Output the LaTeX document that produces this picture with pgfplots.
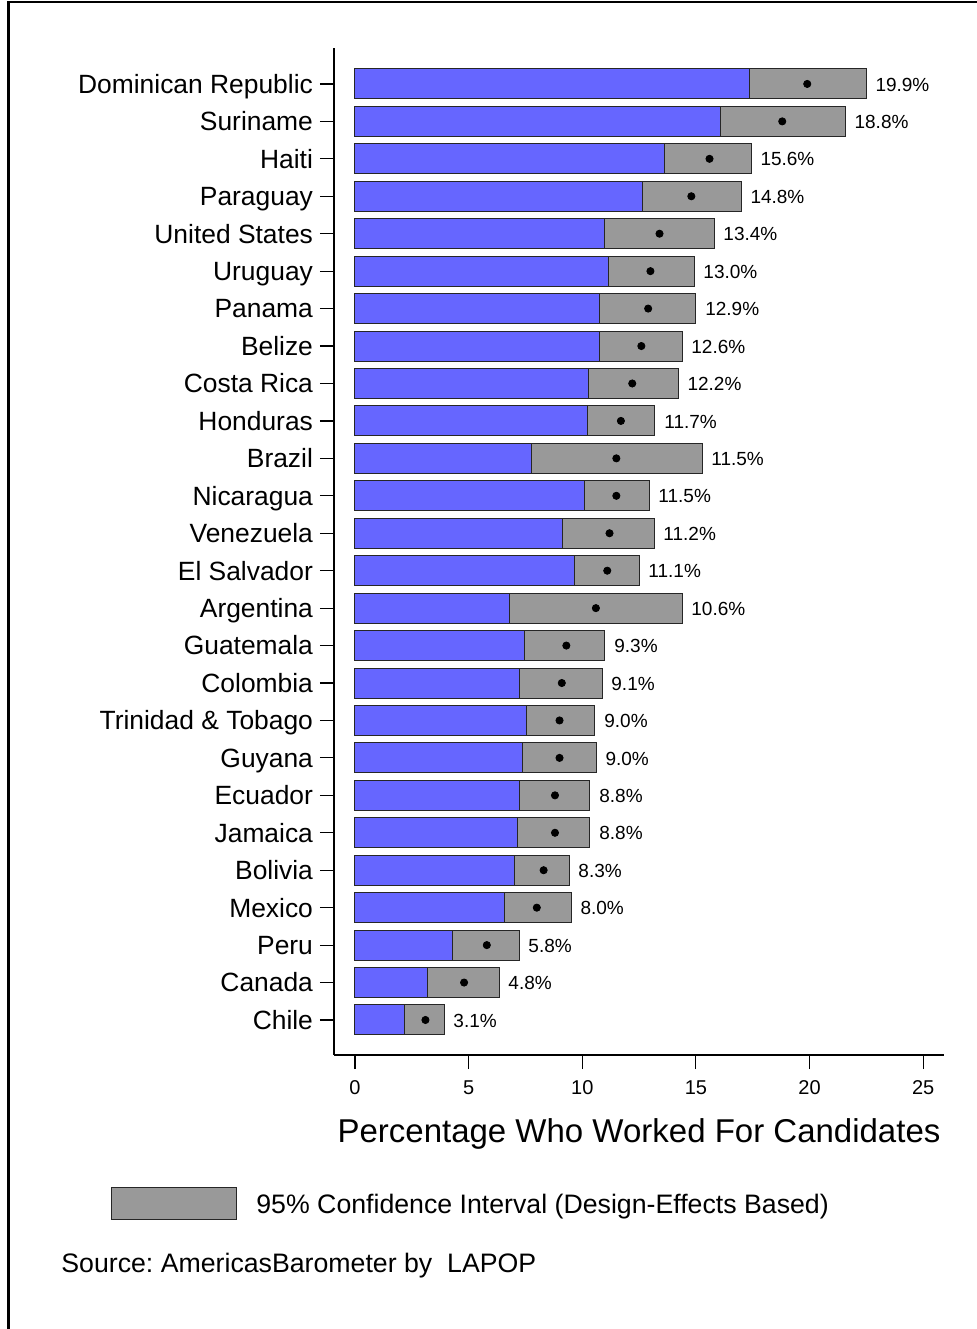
\documentclass[border=0pt]{standalone}
\usepackage{pgfplots}
\pgfplotsset{compat=1.18}
\usepackage{pgfplotstable}
\usepackage{fontspec}
\setmainfont{Liberation Sans}
\frenchspacing
\definecolor{barblue}{RGB}{102,102,255}
\definecolor{cigray}{RGB}{153,153,153}

\pgfplotstableread{
idx lo hi mean
26 17.34 22.49 19.9
25 16.07 21.57 18.8
24 13.60 17.43 15.6
23 12.63 16.99 14.8
22 10.96 15.80 13.4
21 11.14 14.92 13.0
20 10.78 15.00 12.9
19 10.74 14.39 12.6
18 10.26 14.22 12.2
17 10.21 13.20 11.7
16 7.75 15.27 11.5
15 10.12 12.94 11.5
14 9.15 13.16 11.2
13 9.68 12.50 11.1
12 6.78 14.39 10.6
11 7.48 11.00 9.3
10 7.22 10.87 9.1
9 7.53 10.56 9.0
8 7.35 10.61 9.0
7 7.26 10.34 8.8
6 7.13 10.34 8.8
5 7.04 9.42 8.3
4 6.56 9.51 8.0
3 4.27 7.22 5.8
2 3.21 6.34 4.8
1 2.16 3.92 3.1
}\data

\begin{document}
\begin{tikzpicture}
\path[use as bounding box] (0,0) rectangle (488.5pt,664.5pt);
\draw[line width=1.25pt] (4.25pt,0) -- (4.25pt,663.5pt) -- (488.5pt,663.5pt);
\begin{axis}[at={(167pt,137pt)}, anchor=south west, scale only axis,
  width=304.8pt, height=503.5pt,
  xmin=-0.924, xmax=25.9, ymin=0.065, ymax=26.96,
  axis x line*=bottom, axis y line*=left,
  xtick={0,5,10,15,20,25}, ytick={1,...,26},
  yticklabels={Chile,Canada,Peru,Mexico,Bolivia,Jamaica,Ecuador,Guyana,Trinidad \& Tobago,Colombia,Guatemala,Argentina,El Salvador,Venezuela,Nicaragua,Brazil,Honduras,Costa Rica,Belize,Panama,Uruguay,United States,Paraguay,Haiti,Suriname,Dominican Republic},
  tick align=outside, major tick length=7pt,
  tick style={black, line width=0.6pt},
  axis line style={black, line width=0.8pt},
  /pgf/number format/assume math mode=true,
  typeset ticklabels with strut,
  xticklabel style={font=\fontsize{10}{12}\selectfont, yshift=-1pt},
  yticklabel style={font=\fontsize{13.2}{15}\selectfont, yshift=-1.7pt},
  clip=false,
]
\addplot[xbar, bar shift=0pt, bar width=15pt, fill=cigray, draw=black!85, line width=0.5pt] table[x=hi,y=idx]{\data};
\addplot[xbar, bar shift=0pt, bar width=15pt, fill=barblue, draw=black!85, line width=0.5pt] table[x=lo,y=idx]{\data};
\addplot[only marks, mark=*, mark size=1.8pt, black] table[x=mean,y=idx]{\data};
\addplot[draw=none, mark=none, point meta=\thisrow{mean},
  nodes near coords={\pgfmathprintnumber[fixed,fixed zerofill,precision=1]{\pgfplotspointmeta}\%},
  nodes near coords style={anchor=west, inner sep=0pt, xshift=4.5pt, yshift=-0.3pt, font=\fontsize{9.5}{11}\selectfont}]
  table[x=hi,y=idx]{\data};
\end{axis}
\node[anchor=base, inner sep=0pt, font=\fontsize{16.5}{20}\selectfont] at (319.5pt,93pt) {Percentage Who Worked For Candidates};
\draw[fill=cigray, draw=black!85, line width=0.5pt] (55.5pt,54.5pt) rectangle (118pt,70.5pt);
\node[anchor=base west, inner sep=0pt, font=\fontsize{13.35}{15}\selectfont] at (128pt,57.5pt) {95\% Confidence Interval (Design-Effects Based)};
\node[anchor=base west, inner sep=0pt, font=\fontsize{13.35}{15}\selectfont] at (30.5pt,28pt) {Source: AmericasBarometer by\ \ LAPOP};
\end{tikzpicture}
\end{document}
